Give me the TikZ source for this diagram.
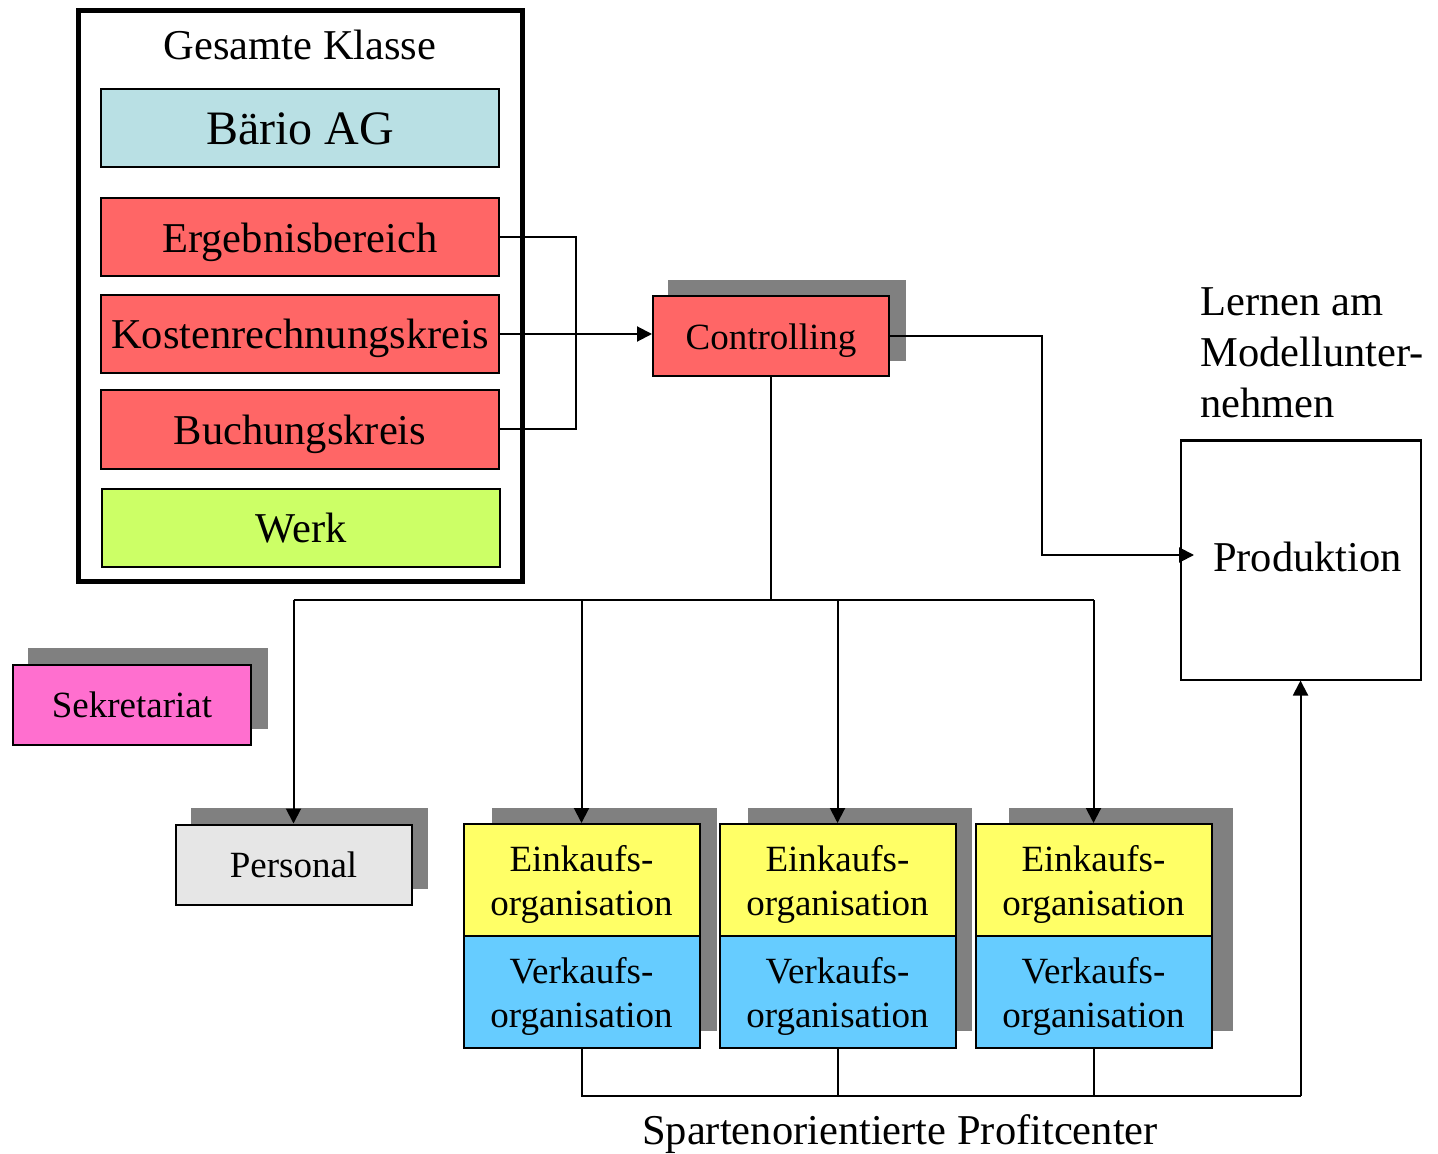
\documentclass[tikz,border=0pt]{standalone}
\usepackage{fontspec}
\setmainfont{Liberation Serif}
\usetikzlibrary{arrows.meta}
\definecolor{cRed}{HTML}{FF6666}
\definecolor{cBaerio}{HTML}{B9E0E4}
\definecolor{cWerk}{HTML}{CCFF66}
\definecolor{cPink}{HTML}{FF6FCF}
\definecolor{cGrey}{HTML}{E6E6E6}
\definecolor{cYellow}{HTML}{FFFF66}
\definecolor{cBlue}{HTML}{66CCFF}
\definecolor{cShadow}{HTML}{808080}
\newcommand{\toplift}{\rule{0pt}{0.93em}}
\begin{document}
\begin{tikzpicture}[x=0.5pt,y=-0.5pt,
  box/.style={draw=black,line width=1pt,inner sep=0pt,align=center},
  bigline/.style={text height=14.7pt,text depth=0pt},
  smallline/.style={text height=12.8pt,text depth=0pt},
  hugeline/.style={text height=16.6pt,text depth=0pt},
  big/.style={font=\fontsize{21.25}{25.5}\selectfont},
  huge/.style={font=\fontsize{24}{28.8}\selectfont},
  small/.style={font=\fontsize{18.5}{22.2}\selectfont},
  wide/.style={box,big,bigline,minimum width=199pt,minimum height=39pt},
  orgbox/.style={box,small,minimum width=118pt,minimum height=56pt},
  conn/.style={line width=1pt},
  arr/.style={conn,-{Triangle[length=7.5pt,width=7.5pt]}}]
\useasboundingbox (0,0) rectangle (1438,1154);
% shadows
\fill[cShadow] (668,280) rectangle (906,361);
\fill[cShadow] (28,648) rectangle (268,729);
\fill[cShadow] (191,808) rectangle (428,889);
\fill[cShadow] (492,808) rectangle (717,1031);
\fill[cShadow] (748,808) rectangle (972,1031);
\fill[cShadow] (1009,808) rectangle (1233,1031);
% Gesamte Klasse
\node[draw,line width=2.5pt,minimum width=222pt,minimum height=285.5pt,inner sep=0pt] (klasse) at (300.5,296) {};
\node[big] (klassetitle) at (300,45) {Gesamte Klasse};
\node[box,huge,hugeline,fill=cBaerio,minimum width=199pt,minimum height=39pt] (baerio) at (300,128) {Bärio AG};
\node[wide,fill=cRed] (ergebnis) at (300,237.5) {Ergebnisbereich};
\node[wide,fill=cRed] (kosten) at (300,334) {Kostenrechnungskreis};
\node[wide,fill=cRed] (buchung) at (300,429.5) {Buchungskreis};
\node[wide,fill=cWerk] (werk) at (301,528) {Werk};
% Controlling
\node[box,small,smallline,fill=cRed,minimum width=118pt,minimum height=40pt] (controlling) at (771,336.5) {Controlling};
% Produktion
\node[box,minimum width=120pt,minimum height=119.5pt] (produktion) at (1300.5,560) {};
\node[big] (prodlabel) at (1307.5,557) {Produktion};
\node[big,align=left,anchor=west,inner sep=0pt] (lernen) at (1200,353) {Lernen am\\Modellunter-\\nehmen};
% Sekretariat, Personal
\node[box,small,smallline,fill=cPink,minimum width=119pt,minimum height=40pt] (sekretariat) at (132,704.5) {Sekretariat};
\node[box,small,smallline,fill=cGrey,minimum width=118pt,minimum height=40pt] (personal) at (293.5,864.5) {Personal};
% Einkauf / Verkauf
\node[orgbox,fill=cYellow] (ek1) at (581.5,880) {\toplift Einkaufs-\\organisation};
\node[orgbox,fill=cBlue] (vk1) at (581.5,992) {\toplift Verkaufs-\\organisation};
\node[orgbox,fill=cYellow] (ek2) at (837.5,880) {\toplift Einkaufs-\\organisation};
\node[orgbox,fill=cBlue] (vk2) at (837.5,992) {\toplift Verkaufs-\\organisation};
\node[orgbox,fill=cYellow] (ek3) at (1093.5,880) {\toplift Einkaufs-\\organisation};
\node[orgbox,fill=cBlue] (vk3) at (1093.5,992) {\toplift Verkaufs-\\organisation};
\node[big] (sparten) at (900,1134) {Spartenorientierte Profitcenter};
% connectors
\coordinate (br) at (576,336);
\draw[conn] (ergebnis.east) -- (ergebnis.east -| br) -- (buchung.east -| br) -- (buchung.east);
\draw[arr] (kosten.east) -- (kosten.east -| controlling.west);
\coordinate (jx) at (1042,555);
\coordinate (pin) at (1194,555);
\draw[arr] (controlling.east) -| (jx) -- (pin);
\coordinate (hub) at (771,600);
\draw[line width=1.4pt] (controlling.south) -- (hub);
\draw[conn] (personal.north |- hub) -- (ek3.north |- hub);
\draw[arr] (personal.north |- hub) -- (personal.north);
\draw[arr] (ek1.north |- hub) -- (ek1.north);
\draw[arr] (ek2.north |- hub) -- (ek2.north);
\draw[arr] (ek3.north |- hub) -- (ek3.north);
\coordinate (bot) at (1300.5,1096);
\draw[conn] (vk1.south) -- (vk1.south |- bot) -- (bot);
\draw[conn] (vk2.south) -- (vk2.south |- bot);
\draw[conn] (vk3.south) -- (vk3.south |- bot);
\draw[arr] (bot) -- (produktion.south);
\end{tikzpicture}
\end{document}
